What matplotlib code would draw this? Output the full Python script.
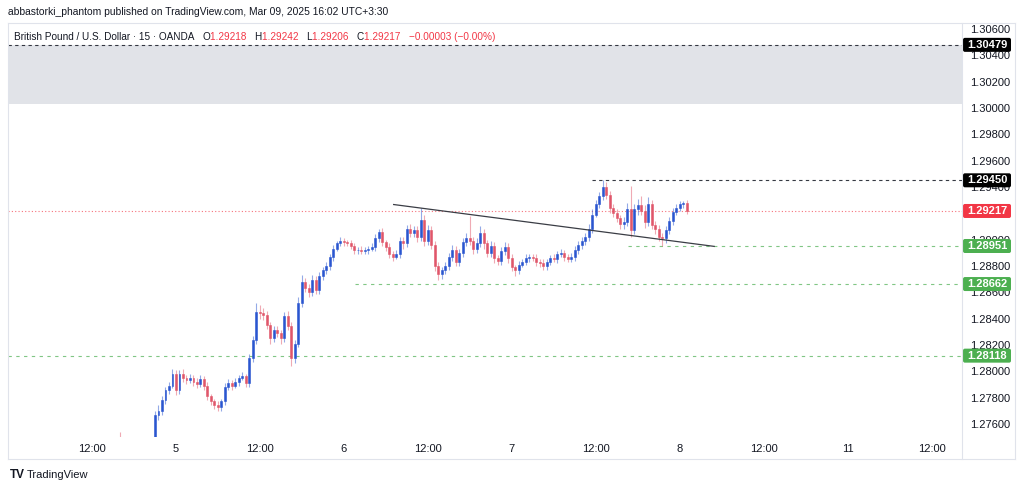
import numpy as np
import matplotlib.pyplot as plt
from matplotlib.transforms import blended_transform_factory
from matplotlib.lines import Line2D
from matplotlib.patches import FancyBboxPatch

plt.rcParams['font.family'] = ['Liberation Sans', 'DejaVu Sans']

# GBP/USD, 30 min bars; hours counted from Mar 5 00:00 (UTC+3:30)
start_hour = -8.0
bar_hours = 0.5
first_open = 1.2750
pip = 0.0001

closes = [
    1.2746, 1.2742, 1.2738, 1.2735, 1.2733, 1.2730, 1.2728, 1.2732, 1.2738, 1.2745,
    1.2767, 1.2770, 1.2778, 1.2786, 1.2789, 1.2798, 1.2786, 1.2798, 1.2795, 1.2793,
    1.2795, 1.2792, 1.2790, 1.2794, 1.2789, 1.2781, 1.2777, 1.2774, 1.2773, 1.2777,
    1.2788, 1.2791, 1.2789, 1.2792, 1.2795, 1.2796, 1.2791, 1.2810, 1.2824, 1.2845,
    1.2844, 1.2843, 1.2835, 1.2825, 1.2831, 1.2829, 1.2825, 1.2842, 1.2834, 1.2810,
    1.2821, 1.2852, 1.2868, 1.2863, 1.2860, 1.2869, 1.2862, 1.2872, 1.2877, 1.2880,
    1.2887, 1.2893, 1.2897, 1.2899, 1.2898, 1.2897, 1.2895, 1.2892, 1.2892, 1.2891,
    1.2892, 1.2893, 1.2894, 1.2901, 1.2906, 1.2898, 1.2894, 1.2889, 1.2887, 1.2889,
    1.2899, 1.2897, 1.2908, 1.2905, 1.2907, 1.2902, 1.2915, 1.2899, 1.2907, 1.2896,
    1.2880, 1.2874, 1.2877, 1.2880, 1.2887, 1.2892, 1.2883, 1.2890, 1.2898, 1.2901,
    1.2899, 1.2893, 1.2897, 1.2905, 1.2897, 1.2890, 1.2895, 1.2886, 1.2884, 1.2891,
    1.2894, 1.2886, 1.2879, 1.2877, 1.2881, 1.2883, 1.2886, 1.2887, 1.2886, 1.2883,
    1.2882, 1.2880, 1.2883, 1.2886, 1.2885, 1.2889, 1.2890, 1.2887, 1.2885, 1.2887,
    1.2892, 1.2896, 1.2899, 1.2902, 1.2908, 1.2919, 1.2927, 1.2933, 1.2940, 1.2934,
    1.2924, 1.2920, 1.2916, 1.2912, 1.2913, 1.2923, 1.2907, 1.2923, 1.2926, 1.2922,
    1.2913, 1.2927, 1.2911, 1.2908, 1.2902, 1.2901, 1.2907, 1.2914, 1.2921, 1.2924,
    1.2927, 1.2928, 1.29217,
]
# wick length beyond the body, in pips
upper_wick = [
    4, 3, 2, 3, 2, 3, 2, 3, 3, 3,
    3, 4, 3, 2, 3, 4, 3, 3, 4, 2,
    3, 2, 3, 3, 2, 3, 2, 2, 3, 2,
    3, 3, 2, 3, 2, 3, 2, 3, 3, 7,
    5, 4, 3, 2, 3, 3, 2, 3, 4, 3,
    3, 4, 5, 3, 3, 4, 3, 3, 2, 3,
    2, 3, 2, 3, 2, 2, 3, 2, 2, 3,
    2, 2, 3, 3, 2, 3, 2, 3, 2, 3,
    3, 3, 3, 4, 3, 3, 9, 4, 4, 3,
    3, 3, 2, 3, 3, 4, 3, 3, 3, 4,
    17, 3, 4, 5, 3, 3, 4, 3, 2, 3,
    4, 3, 3, 2, 3, 2, 3, 2, 2, 3,
    2, 3, 2, 2, 3, 2, 3, 2, 2, 3,
    3, 3, 3, 3, 4, 4, 3, 3, 5, 4,
    3, 3, 3, 3, 4, 5, 18, 4, 5, 7,
    4, 5, 3, 3, 3, 3, 3, 3, 3, 3,
    2, 1, 2,
]
lower_wick = [
    3, 3, 3, 3, 3, 3, 3, 3, 3, 3,
    4, 4, 3, 3, 3, 2, 4, 3, 3, 3,
    2, 3, 3, 2, 3, 3, 3, 3, 3, 3,
    3, 2, 3, 2, 3, 2, 3, 3, 3, 3,
    4, 4, 3, 4, 3, 3, 4, 3, 3, 6,
    4, 3, 3, 3, 4, 3, 3, 3, 3, 3,
    3, 3, 2, 2, 3, 2, 2, 3, 3, 2,
    2, 3, 2, 3, 3, 3, 3, 3, 3, 2,
    3, 4, 3, 3, 3, 4, 3, 4, 3, 3,
    4, 5, 4, 3, 3, 3, 3, 3, 3, 3,
    3, 4, 3, 3, 4, 3, 3, 4, 3, 3,
    3, 4, 3, 5, 3, 2, 2, 3, 2, 3,
    3, 3, 3, 2, 2, 3, 2, 3, 2, 2,
    3, 3, 3, 3, 3, 3, 2, 3, 3, 3,
    4, 3, 3, 4, 4, 3, 5, 3, 4, 3,
    4, 3, 3, 4, 3, 6, 4, 3, 3, 2,
    2, 3, 2,
]

price_ticks = [1.276, 1.278, 1.280, 1.282, 1.284, 1.286, 1.288, 1.290,
               1.292, 1.294, 1.296, 1.298, 1.300, 1.302, 1.304, 1.306]
time_ticks = [-12, 0, 12, 24, 36, 48, 60, 72, 84, 96, 108]
time_labels = ['12:00', '5', '12:00', '6', '12:00', '7', '12:00', '8', '12:00', '11', '12:00']

# horizontal levels: value, colour, start hour, line style, label box colour
level_values = [1.30479, 1.29450, 1.29217, 1.28951, 1.28662, 1.28118]
level_colors = ['#131722', '#131722', '#f23645', '#4caf50', '#4caf50', '#4caf50']
level_box = ['#000000', '#000000', '#f23645', '#4caf50', '#4caf50', '#4caf50']
level_start = [-24, 59.4, -24, 64.6, 25.6, -24]
level_style = [(0, (3, 3)), (0, (3, 3)), (0, (1, 2)), (0, (3, 4)), (0, (3, 4)), (0, (3, 4))]

zone_low, zone_high = 1.3003, 1.30479
trend_hours = [31.1, 76.9]
trend_prices = [1.29266, 1.28948]

UP = '#2a56d0'
DOWN = '#e0566a'
TEXT = '#131722'
GRID = '#e0e3eb'

W, H = 1024, 490
fig = plt.figure(figsize=(W / 100, H / 100), dpi=100)
fig.patch.set_facecolor('white')

left, right, top, bottom = 8, 962, 23, 437
ax = fig.add_axes([left / W, 1 - bottom / H, (right - left) / W, (bottom - top) / H])
ax.set_xlim(-24, 112.3)
ax.set_ylim(1.2750, 1.30645)
for s in ax.spines.values():
    s.set_visible(False)

# zone
ax.axhspan(zone_low, zone_high, color='#e1e3e8', zorder=0, lw=0)

# levels
for v, c, st, ls in zip(level_values, level_colors, level_start, level_style):
    alpha = 0.85 if c == TEXT else 0.7
    ax.hlines(v, st, 112.3, colors=c, linestyles=[ls], lw=0.8, alpha=alpha, zorder=1)

# candles
c = np.array(closes)
o = np.concatenate([[first_open], c[:-1]])
hi = np.maximum(o, c) + np.array(upper_wick) * pip
lo = np.minimum(o, c) - np.array(lower_wick) * pip
t = start_hour + bar_hours * np.arange(len(c))
cols = np.where(c >= o, UP, DOWN)
ax.vlines(t, lo, hi, colors=cols, lw=0.8, alpha=0.5, zorder=2)
ax.bar(t, c - o, bottom=o, width=0.28, color=cols, edgecolor=cols, lw=0.4, zorder=3)

# trendline
ax.plot(trend_hours, trend_prices, color='#3a3d45', lw=0.9, zorder=4)

# axes ticks
ax.yaxis.tick_right()
ax.set_yticks(price_ticks)
ax.set_yticklabels([f'{p:.5f}' for p in price_ticks])
ax.tick_params(axis='y', length=0, pad=6, labelsize=8, labelcolor=TEXT)
ax.set_xticks(time_ticks)
ax.set_xticklabels(time_labels)
ax.tick_params(axis='x', length=0, pad=5, labelsize=8, labelcolor=TEXT)

# price label boxes on the price scale
tr = blended_transform_factory(ax.transAxes, ax.transData)
px_x = 1 / (right - left)
px_y = (1.30645 - 1.2750) / (bottom - top)
box_w, box_h = 48, 14
for v, bc in zip(level_values, level_box):
    box = FancyBboxPatch((1.0 + 1 * px_x, v - box_h / 2 * px_y), box_w * px_x, box_h * px_y,
                         boxstyle='round,pad=0,rounding_size=0.002', mutation_aspect=px_y / px_x,
                         transform=tr, fc=bc, ec='none', clip_on=False, zorder=9)
    ax.add_patch(box)
    ax.text(1.0 + (1 + box_w / 2) * px_x, v, f'{v:.5f}', transform=tr, ha='center', va='center',
            fontsize=8, fontweight='bold', color='white', zorder=10, clip_on=False)

# pane borders
def fline(x0, y0, x1, y1):
    fig.add_artist(Line2D([x0 / W, x1 / W], [1 - y0 / H, 1 - y1 / H], color=GRID, lw=0.8))

fline(8, 23, 1015, 23)
fline(8, 459, 1015, 459)
fline(8, 23, 8, 459)
fline(1015, 23, 1015, 459)
fline(962, 23, 962, 459)

# header texts
fig.text(8 / W, 1 - 12 / H, 'abbastorki_phantom published on TradingView.com, Mar 09, 2025 16:02 UTC+3:30',
         fontsize=7.4, color=TEXT, va='center')

RED = '#f23645'
parts = [('British Pound / U.S. Dollar · 15 · OANDA   ', TEXT), ('O', TEXT), ('1.29218   ', RED),
         ('H', TEXT), ('1.29242   ', RED), ('L', TEXT), ('1.29206   ', RED),
         ('C', TEXT), ('1.29217   ', RED), ('−0.00003 (−0.00%)', RED)]
r = fig.canvas.get_renderer()
x = 14 / W
for s, col in parts:
    tx = fig.text(x, 1 - 37 / H, s, fontsize=7.2, color=col, va='center', ha='left')
    x += tx.get_window_extent(renderer=r).width / W

fig.text(10 / W, 1 - 475 / H, 'TV', fontsize=8.5, fontweight='bold', color=TEXT, va='center')
fig.text(27 / W, 1 - 475 / H, 'TradingView', fontsize=8, color=TEXT, va='center')

fig.savefig('out.png', dpi=100)
